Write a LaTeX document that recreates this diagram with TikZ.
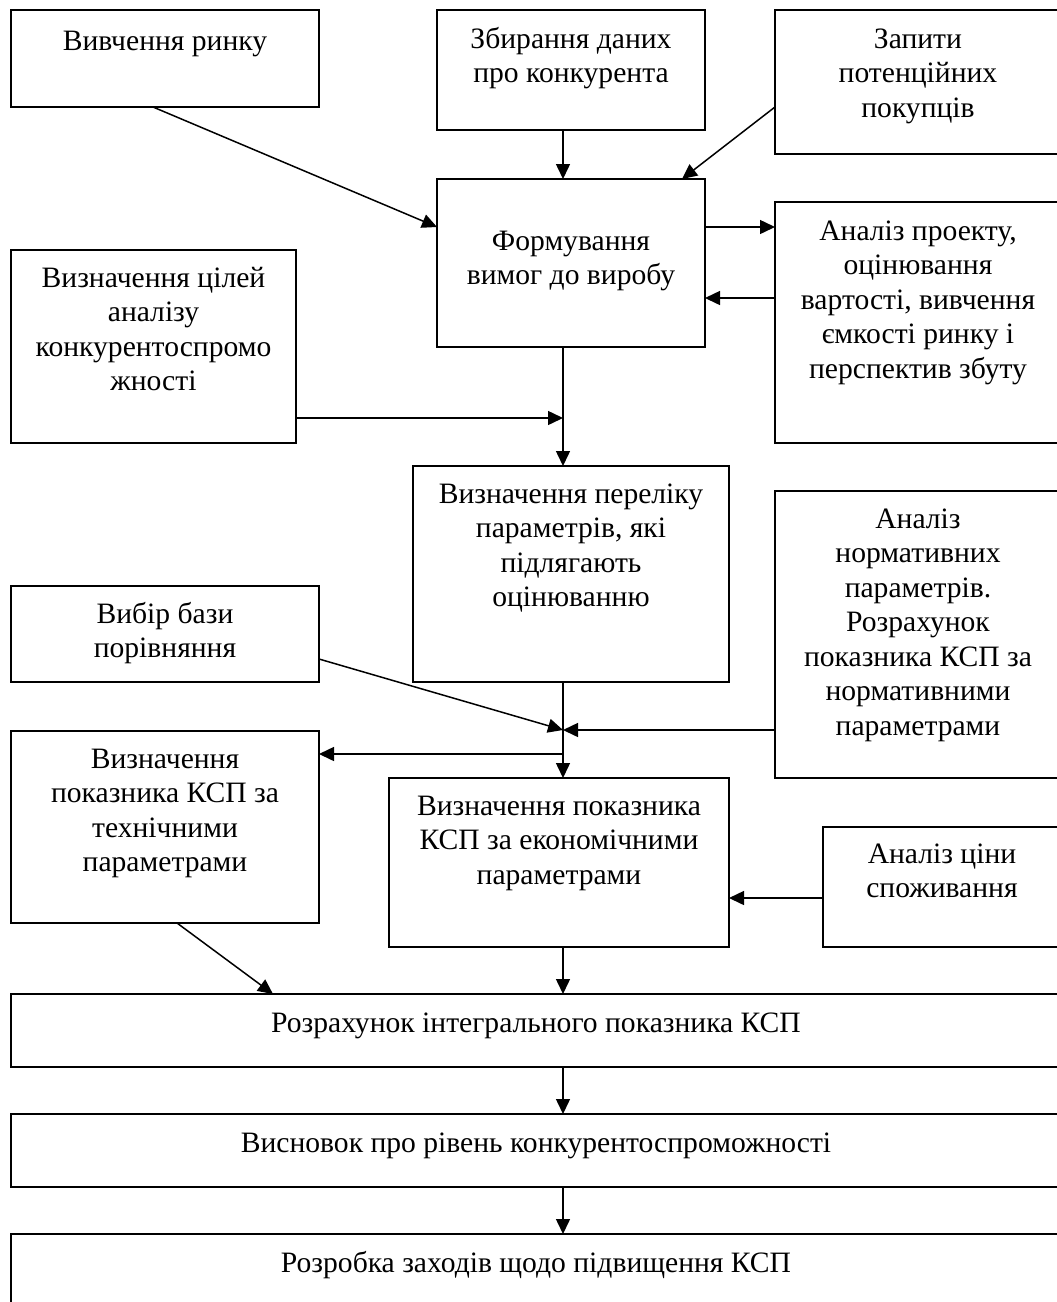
\documentclass[tikz,border=0pt]{standalone}
\usepackage{fontspec}
\setmainfont{Liberation Serif}
\usetikzlibrary{arrows.meta,calc}
\newcommand\fsz{\fontsize{29.6}{34.5}\selectfont}
\newcommand\ctext[2]{\parbox[t]{#1pt}{\centering #2}}
\begin{document}
\begin{tikzpicture}[x=1pt,y=-1pt,
  boxx/.style={draw, line width=1.6pt, rectangle, anchor=north west, inner sep=0pt, outer sep=0pt},
  txt/.style={anchor=base, inner sep=0pt, outer sep=0pt, font=\fsz},
  arr/.style={line width=1.5pt, -{Triangle[length=15pt,width=14pt]}}]
\useasboundingbox (0,0) rectangle (1057,1302);
\fill[white] (0,0) rectangle (1057,1302);
\clip (0,0) rectangle (1057,1302);
% boxes
\node[boxx, minimum width=308pt, minimum height=97pt]  (b1)  at (11,10) {};
\node[boxx, minimum width=268pt, minimum height=120pt] (b2)  at (437,10) {};
\node[boxx, minimum width=286pt, minimum height=144pt] (b3)  at (775,10) {};
\node[boxx, minimum width=268pt, minimum height=168pt] (b4)  at (437,179) {};
\node[boxx, minimum width=286pt, minimum height=241pt] (b5)  at (775,202) {};
\node[boxx, minimum width=285pt, minimum height=193pt] (b6)  at (11,250) {};
\node[boxx, minimum width=316pt, minimum height=216pt] (b7)  at (413,466) {};
\node[boxx, minimum width=286pt, minimum height=287pt] (b8)  at (775,491) {};
\node[boxx, minimum width=308pt, minimum height=96pt]  (b9)  at (11,586) {};
\node[boxx, minimum width=308pt, minimum height=192pt] (b10) at (11,731) {};
\node[boxx, minimum width=340pt, minimum height=169pt] (b11) at (389,778) {};
\node[boxx, minimum width=238pt, minimum height=120pt] (b12) at (823,827) {};
\node[boxx, minimum width=1050pt, minimum height=73pt] (b13) at (11,994) {};
\node[boxx, minimum width=1050pt, minimum height=73pt] (b14) at (11,1114) {};
\node[boxx, minimum width=1050pt, minimum height=90pt] (b15) at (11,1234) {};
% texts
\node[txt] (t1)  at ($(b1.north)+(0,40)$)  {\ctext{300}{Вивчення ринку}};
\node[txt] (t2)  at ($(b2.north)+(0,38)$)  {\ctext{264}{Збирання даних\\про конкурента}};
\node[txt] (t3)  at ($(b3.north)+(0,38)$)  {\ctext{284}{Запити\\потенційних\\покупців}};
\node[txt] (t4)  at ($(b4.north)+(0,71)$)  {\ctext{264}{Формування\\вимог до виробу}};
\node[txt] (t5)  at ($(b5.north)+(0,38)$)  {\ctext{284}{Аналіз проекту,\\оцінювання\\вартості, вивчення\\ємкості ринку і\\перспектив збуту}};
\node[txt] (t6)  at ($(b6.north)+(0,37)$)  {\ctext{284}{Визначення цілей\\аналізу\\конкурентоспромо\\жності}};
\node[txt] (t7)  at ($(b7.north)+(0,37)$)  {\ctext{314}{Визначення переліку\\параметрів, які\\підлягають\\оцінюванню}};
\node[txt] (t8)  at ($(b8.north)+(0,37)$)  {\ctext{284}{Аналіз\\нормативних\\параметрів.\\Розрахунок\\показника КСП за\\нормативними\\параметрами}};
\node[txt] (t9)  at ($(b9.north)+(0,37)$)  {\ctext{304}{Вибір бази\\порівняння}};
\node[txt] (t10) at ($(b10.north)+(0,37)$) {\ctext{304}{Визначення\\показника КСП за\\технічними\\параметрами}};
\node[txt] (t11) at ($(b11.north)+(0,37)$) {\ctext{338}{Визначення показника\\КСП за економічними\\параметрами}};
\node[txt] (t12) at ($(b12.north)+(0,36)$) {\ctext{234}{Аналіз ціни\\споживання}};
\node[txt] (t13) at ($(b13.north)+(0,38)$) {\ctext{1000}{Розрахунок інтегрального показника КСП}};
\node[txt] (t14) at ($(b14.north)+(0,38)$) {\ctext{1000}{Висновок про рівень конкурентоспроможності}};
\node[txt] (t15) at ($(b15.north)+(0,38)$) {\ctext{1000}{Розробка заходів щодо підвищення КСП}};
% connectors
\coordinate (vx) at (563,0);
\coordinate (j1) at (563,418);
\coordinate (j2) at (563,730);
\coordinate (j3) at (563,754);
\draw[arr] (b2.south -| vx) -- (b4.north -| vx);
\draw[arr] ($(b1.south west)+(142,0)$) -- ($(b4.north west)+(0,48)$);
\draw[arr] ($(b3.north west)+(0,97)$) -- ($(b4.north west)+(245,0)$);
\draw[arr] ($(b4.north east)+(0,48)$) -- ($(b5.north west)+(0,25)$);
\draw[arr] ($(b5.north west)+(0,96)$) -- ($(b4.north east)+(0,119)$);
\draw[arr] (b4.south -| vx) -- (b7.north -| vx);
\draw[arr] ($(b6.north east)+(0,168)$) -- (j1);
\draw[arr] ($(b9.north east)+(0,73)$) -- (j2);
\draw[arr] ($(b8.north west)+(0,239)$) -- (j2);
\draw[arr] (j3) -- ($(b10.north east)+(0,23)$);
\draw[arr] (b7.south -| vx) -- (b11.north -| vx);
\draw[arr] ($(b12.north west)+(0,71)$) -- ($(b11.north east)+(0,120)$);
\draw[arr] (b11.south -| vx) -- (b13.north -| vx);
\draw[arr] ($(b10.south west)+(166,0)$) -- ($(b13.north west)+(262,0)$);
\draw[arr] (b13.south -| vx) -- (b14.north -| vx);
\draw[arr] (b14.south -| vx) -- (b15.north -| vx);
\end{tikzpicture}
\end{document}
